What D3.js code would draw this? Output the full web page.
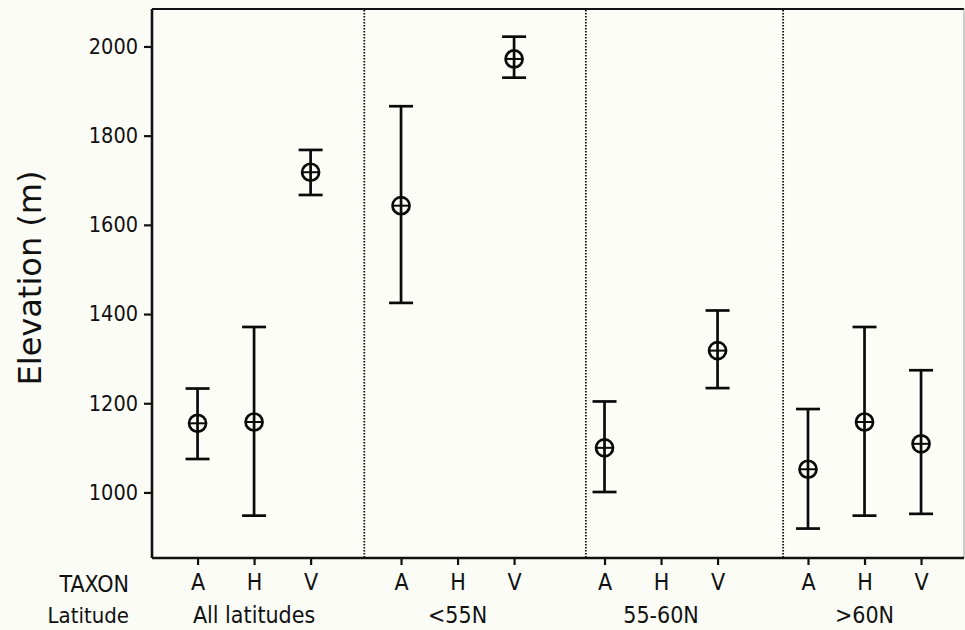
<!DOCTYPE html>
<html>
<head>
<meta charset="utf-8">
<script src="https://cdn.jsdelivr.net/npm/d3@7"></script>
<style>
  html, body { margin: 0; padding: 0; background: #fcfcf6; }
  svg { display: block; }
  text { font-family: "DejaVu Sans Condensed", "DejaVu Sans", sans-serif; fill: #111; }
</style>
</head>
<body>
<svg id="chart" width="965" height="630"></svg>
<script>
// ---- data ----
const latitudes = ["All latitudes", "<55N", "55-60N", ">60N"];
const taxa = ["A", "H", "V"];
// mean elevation (m) per latitude group, per taxon (A, H, V); null = no data
const meanValues  = [[1155, 1158, 1718], [1643, null, 1972], [1100, null, 1318], [1052, 1158, 1109]];
const lowerValues = [[1075,  948, 1667], [1425, null, 1930], [1001, null, 1234], [ 919,  948,  952]];
const upperValues = [[1233, 1371, 1768], [1866, null, 2022], [1204, null, 1408], [1187, 1371, 1274]];
const yTicks = [1000, 1200, 1400, 1600, 1800, 2000];
const yDomain = [853, 2084];
// slot positions (in category units) of the dotted group separators
const dividerSlots = [2.95, 6.87, 10.36];
const groupPeriod = 3.6;     // slots per latitude group
const xDomain = [-0.806, 13.56];

// ---- layout ----
const svg = d3.select("#chart");
const L = 152, R = 964, T = 9, B = 558;

const x = d3.scaleLinear().domain(xDomain).range([L, R]);
const y = d3.scaleLinear().domain(yDomain).range([B, T]);
const slot = (g, i) => g * groupPeriod + i;

// frame
svg.append("rect").attr("x", L).attr("y", T).attr("width", R - L).attr("height", B - T)
  .attr("fill", "#fdfdf8").attr("stroke", "none");
svg.append("line").attr("x1", L).attr("x2", R).attr("y1", T).attr("y2", T).attr("stroke", "#111").attr("stroke-width", 2.2);
svg.append("line").attr("x1", R).attr("x2", R).attr("y1", T).attr("y2", B).attr("stroke", "#999").attr("stroke-width", 1);

// dividers
svg.selectAll("line.div").data(dividerSlots).enter().append("line")
  .attr("class", "div")
  .attr("x1", d => x(d)).attr("x2", d => x(d))
  .attr("y1", T + 1).attr("y2", B)
  .attr("stroke", "#111").attr("stroke-width", 1.8).attr("stroke-dasharray", "1.5,1.5");

// y axis
const yAxis = d3.axisLeft(y).tickValues(yTicks).tickSize(8).tickPadding(6).tickFormat(d3.format("d"));
const gy = svg.append("g").attr("transform", `translate(${L},0)`).call(yAxis);
gy.select(".domain").attr("d", `M0,${T}V${B}`).attr("stroke", "#111").attr("stroke-width", 2.6);
gy.selectAll(".tick line").attr("stroke", "#111").attr("stroke-width", 2.2);
gy.selectAll(".tick text").style("font-size", "21.5px").style("font-family", "'DejaVu Sans Condensed', 'DejaVu Sans', sans-serif").attr("fill", "#111");

// x axis (taxon ticks)
const tickSlots = [];
latitudes.forEach((lat, g) => taxa.forEach((t, i) => tickSlots.push({ s: slot(g, i), t })));
const xAxis = d3.axisBottom(x).tickValues(tickSlots.map(d => d.s))
  .tickFormat((d, k) => tickSlots[k].t).tickSize(7).tickPadding(9);
const gx = svg.append("g").attr("transform", `translate(0,${B})`).call(xAxis);
gx.select(".domain").attr("d", `M${L},0H${R}`).attr("stroke", "#111").attr("stroke-width", 2.6);
gx.selectAll(".tick line").attr("stroke", "#111").attr("stroke-width", 2.2);
gx.selectAll(".tick text").style("font-size", "23px").style("font-family", "'DejaVu Sans Condensed', 'DejaVu Sans', sans-serif").attr("fill", "#111");

// latitude labels
svg.selectAll("text.lat").data(latitudes).enter().append("text")
  .attr("class", "lat")
  .attr("x", (d, g) => x(slot(g, 1))).attr("y", 623)
  .attr("text-anchor", "middle").style("font-size", "23px").text(d => d);

// row labels
svg.append("text").attr("x", 129).attr("y", 592).attr("text-anchor", "end").style("font-size", "23px").text("TAXON");
svg.append("text").attr("x", 129).attr("y", 623).attr("text-anchor", "end").style("font-size", "22px").text("Latitude");

// y label
svg.append("text")
  .attr("transform", `translate(41,278) rotate(-90)`)
  .attr("text-anchor", "middle")
  .style("font-family", "'DejaVu Sans', sans-serif")
  .style("font-size", "32px").text("Elevation (m)");

// interval data
const pts = [];
latitudes.forEach((lat, g) => taxa.forEach((t, i) => {
  if (meanValues[g][i] != null) pts.push({ s: slot(g, i), m: meanValues[g][i], lo: lowerValues[g][i], hi: upperValues[g][i] });
}));

const capW = 12, r = 8.5;
const gp = svg.append("g").attr("stroke", "#0a0a0a").attr("stroke-width", 2.7).attr("fill", "none");
const it = gp.selectAll("g").data(pts).enter().append("g");
it.append("line").attr("x1", d => x(d.s)).attr("x2", d => x(d.s)).attr("y1", d => y(d.lo)).attr("y2", d => y(d.hi));
it.append("line").attr("x1", d => x(d.s) - capW).attr("x2", d => x(d.s) + capW).attr("y1", d => y(d.hi)).attr("y2", d => y(d.hi));
it.append("line").attr("x1", d => x(d.s) - capW).attr("x2", d => x(d.s) + capW).attr("y1", d => y(d.lo)).attr("y2", d => y(d.lo));
it.append("circle").attr("cx", d => x(d.s)).attr("cy", d => y(d.m)).attr("r", r);
it.append("line").attr("x1", d => x(d.s) - r).attr("x2", d => x(d.s) + r).attr("y1", d => y(d.m)).attr("y2", d => y(d.m)).attr("stroke-width", 2);
</script>
</body>
</html>
